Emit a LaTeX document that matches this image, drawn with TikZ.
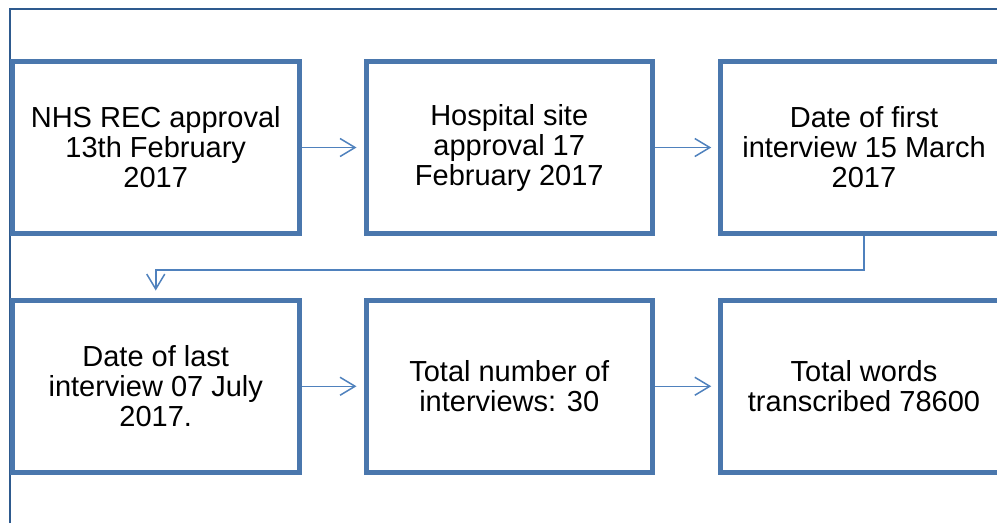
\documentclass[tikz,border=0pt]{standalone}
\usepackage{fontspec}
\setmainfont{Liberation Sans}
\usetikzlibrary{arrows.meta}
\definecolor{framecol}{HTML}{2E5A8E}
\definecolor{boxcol}{HTML}{4A77AD}
\definecolor{arrcol}{HTML}{4F81BD}
\tikzset{
  stepbox/.style={draw=boxcol, line width=5pt, minimum width=286.5pt, minimum height=172.5pt,
    inner sep=0pt, align=center, font=\fontsize{29pt}{30pt}\selectfont, text=black},
  conn/.style={draw=arrcol, line width=1.5pt, -{Straight Barb[length=15pt,width=18pt,line width=1.5pt]}, shorten >=7pt}
}
\begin{document}
\begin{tikzpicture}[x=1pt,y=-1pt]
\useasboundingbox (0,0) rectangle (997,523);
\draw[framecol, line width=2pt] (9.5,523) -- (9.5,8.5) -- (997,8.5);
\node[stepbox] (b1) at (155.75,147.5) {NHS REC approval\\13th February\\2017};
\node[stepbox] (b2) at (509.25,147.5) {Hospital site\\approval 17\\February 2017};
\node[stepbox] (b3) at (864,147.5) {Date of first\\interview 15 March\\2017};
\node[stepbox] (b4) at (155.75,386.25) {Date of last\\interview 07 July\\2017.};
\node[stepbox] (b5) at (509.25,386.25) {Total number of\\interviews: 30};
\node[stepbox] (b6) at (864,386.25) {Total words\\transcribed 78600};
\draw[conn] (b1) -- (b2);
\draw[conn] (b2) -- (b3);
\draw[conn] (b4) -- (b5);
\draw[conn] (b5) -- (b6);
\coordinate (turn) at ([yshift=-33.75pt]b3.south);
\draw[conn] (b3.south) -- (turn) -| (b4.north);
\end{tikzpicture}
\end{document}
